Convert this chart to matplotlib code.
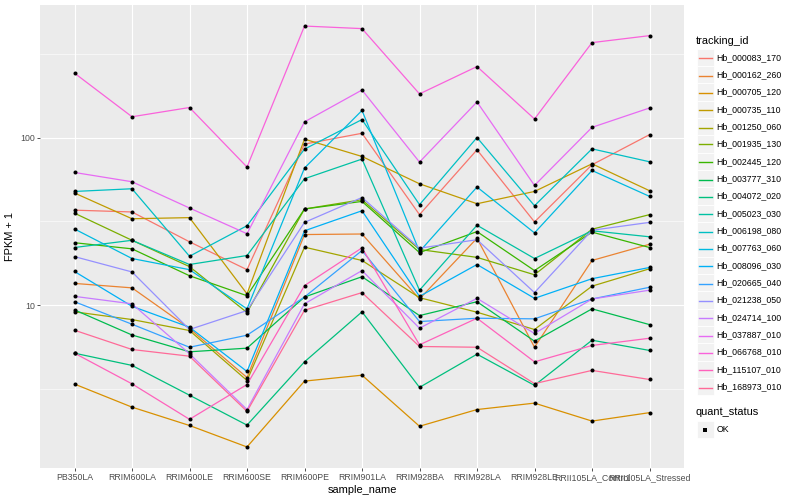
import numpy as np
import matplotlib
matplotlib.use('Agg')
import matplotlib.pyplot as plt
from matplotlib.patches import Rectangle
from matplotlib.lines import Line2D
from matplotlib.colors import to_hex
from matplotlib.ticker import FixedLocator, NullFormatter

plt.rcParams['font.family'] = ['Liberation Sans', 'DejaVu Sans']

samples = ['PB350LA', 'RRIM600LA', 'RRIM600LE', 'RRIM600SE', 'RRIM600PE',
           'RRIM901LA', 'RRIM928BA', 'RRIM928LA', 'RRIM928LE',
           'RRII105LA_Control', 'RRII105LA_Stressed']

# FPKM + 1, one value per sample
hb_000083_170 = [36.9, 36.0, 23.9, 16.3, 91.4, 106, 34.7, 84.5, 31.4, 68.8, 104]
hb_000162_260 = [13.5, 12.7, 7.27, 3.71, 26.4, 26.6, 10.9, 25.1, 5.62, 18.5, 23.1]
hb_000705_120 = [3.39, 2.47, 1.92, 1.43, 3.53, 3.83, 1.90, 2.39, 2.61, 2.04, 2.29]
hb_000735_110 = [46.7, 32.8, 33.3, 11.7, 97.8, 77.1, 53.0, 40.3, 47.7, 69.7, 48.2]
hb_001250_060 = [9.14, 8.22, 7.07, 3.56, 22.2, 18.5, 11.1, 9.09, 7.17, 13.0, 16.5]
hb_001935_130 = [35.4, 24.4, 17.0, 9.05, 37.5, 42.6, 21.5, 19.3, 15.2, 28.4, 34.7]
hb_002445_120 = [23.6, 21.7, 15.0, 11.4, 37.5, 41.6, 20.6, 27.5, 16.1, 27.3, 22.1]
hb_003777_310 = [9.39, 6.65, 5.28, 5.55, 11.2, 14.8, 8.68, 10.5, 6.11, 9.52, 7.67]
hb_004072_020 = [5.18, 4.38, 2.91, 1.93, 4.60, 9.14, 3.24, 5.11, 3.33, 6.19, 5.38]
hb_005023_030 = [22.1, 24.4, 17.5, 19.8, 56.8, 74.4, 12.3, 30.0, 19.0, 27.8, 25.6]
hb_006198_080 = [47.7, 49.5, 19.6, 29.8, 85.3, 128, 39.8, 100, 39.2, 85.6, 71.7]
hb_007763_060 = [28.5, 19.0, 16.3, 9.52, 65.8, 145, 20.9, 50.7, 27.0, 63.6, 44.6]
hb_008096_030 = [15.9, 9.86, 7.40, 4.03, 27.8, 36.6, 11.3, 17.5, 11.0, 14.4, 16.8]
hb_020665_040 = [10.5, 7.71, 5.62, 6.63, 11.2, 21.2, 8.00, 8.37, 8.30, 10.9, 12.8]
hb_021238_050 = [19.5, 15.8, 7.17, 9.30, 31.2, 43.9, 21.9, 24.6, 11.9, 28.0, 31.2]
hb_024714_100 = [11.3, 10.2, 5.14, 2.39, 10.2, 16.1, 7.30, 11.0, 6.79, 10.9, 12.3]
hb_037887_010 = [61.9, 54.5, 38.0, 26.7, 124, 192, 71.4, 163, 51.8, 115, 150]
hb_066768_010 = [242, 133, 151, 66.7, 462, 446, 182, 265, 129, 368, 405]
hb_115107_010 = [5.18, 3.40, 2.09, 3.37, 13.1, 22.0, 5.81, 8.37, 4.60, 5.76, 6.36]
hb_168973_010 = [7.10, 5.45, 4.97, 2.33, 9.34, 11.9, 5.68, 5.62, 3.41, 4.09, 3.61]

tracking_ids = ['Hb_000083_170', 'Hb_000162_260', 'Hb_000705_120', 'Hb_000735_110',
                'Hb_001250_060', 'Hb_001935_130', 'Hb_002445_120', 'Hb_003777_310',
                'Hb_004072_020', 'Hb_005023_030', 'Hb_006198_080', 'Hb_007763_060',
                'Hb_008096_030', 'Hb_020665_040', 'Hb_021238_050', 'Hb_024714_100',
                'Hb_037887_010', 'Hb_066768_010', 'Hb_115107_010', 'Hb_168973_010']
series = [hb_000083_170, hb_000162_260, hb_000705_120, hb_000735_110,
          hb_001250_060, hb_001935_130, hb_002445_120, hb_003777_310,
          hb_004072_020, hb_005023_030, hb_006198_080, hb_007763_060,
          hb_008096_030, hb_020665_040, hb_021238_050, hb_024714_100,
          hb_037887_010, hb_066768_010, hb_115107_010, hb_168973_010]


def hcl(h, c=100, l=65):
    # polar Luv -> sRGB, like R's hcl()
    xn, yn, zn = 95.047, 100.0, 108.883
    hr = np.radians(h)
    u_, v_ = c * np.cos(hr), c * np.sin(hr)
    y = yn * ((l + 16) / 116) ** 3
    un = 4 * xn / (xn + 15 * yn + 3 * zn)
    vn = 9 * yn / (xn + 15 * yn + 3 * zn)
    u = u_ / (13 * l) + un
    v = v_ / (13 * l) + vn
    x = 9 * y * u / (4 * v)
    z = -x / 3 - 5 * y + 3 * y / v
    m = np.array([[3.240479, -1.537150, -0.498535],
                  [-0.969256, 1.875992, 0.041556],
                  [0.055648, -0.204043, 1.057311]])
    rgb = m @ (np.array([x, y, z]) / 100)
    rgb = np.where(rgb <= 0.0031308, 12.92 * rgb, 1.055 * np.abs(rgb) ** (1 / 2.4) - 0.055)
    return to_hex(np.clip(rgb, 0, 1))


n = len(tracking_ids)
hues = np.linspace(15, 375 - 360 / n, n)
colors = [hcl(h) for h in hues]

W, H = 800, 500
fig = plt.figure(figsize=(8, 5), dpi=100)
fig.patch.set_facecolor('white')

def fx(px):
    return px / W

def fy(py):
    return 1 - py / H

ax = fig.add_axes([fx(40), fy(468), fx(684) - fx(40), fy(5) - fy(468)])
ax.set_facecolor('#EBEBEB')
for s in ax.spines.values():
    s.set_visible(False)

xs = np.arange(len(samples))
for vals, col in zip(series, colors):
    ax.plot(xs, vals, color=col, lw=0.9, zorder=3)
for vals in series:
    ax.plot(xs, vals, 'o', color='black', ms=2.9, zorder=4, mew=0)

ax.set_yscale('log')
allv = np.log10(np.concatenate([np.array(v) for v in series]))
lo, hi = allv.min(), allv.max()
pad = 0.05 * (hi - lo)
ax.set_ylim(10 ** (lo - pad), 10 ** (hi + pad))
ax.set_xlim(-0.6, len(samples) - 0.4)

ax.yaxis.set_major_locator(FixedLocator([1, 10, 100, 1000]))
ax.yaxis.set_major_formatter(plt.FuncFormatter(lambda v, p: '%d' % v))
ax.yaxis.set_minor_locator(FixedLocator([10 ** 0.5, 10 ** 1.5, 10 ** 2.5]))
ax.yaxis.set_minor_formatter(NullFormatter())
ax.set_xticks(xs)
ax.set_xticklabels(samples)

ax.grid(which='major', color='white', lw=0.8, zorder=0)
ax.grid(which='minor', axis='y', color='white', lw=0.4, zorder=0)
ax.set_axisbelow(True)
ax.tick_params(which='major', length=2.0, width=0.6, color='#333333',
               labelcolor='#4D4D4D', labelsize=6.3, pad=1.6)
ax.tick_params(which='minor', length=0)

ax.set_xlabel('sample_name', fontsize=7.9, labelpad=2)
ax.set_ylabel('FPKM + 1', fontsize=7.9, labelpad=4)

# legend: tracking_id
fig.text(fx(696), fy(40.7), 'tracking_id', fontsize=7.9, va='center', ha='left')
step = 17.33
for i, (name, col) in enumerate(zip(tracking_ids, colors)):
    cy = 57.3 + i * step
    ly = round(cy) + 0.5
    fig.patches.append(Rectangle((fx(697), fy(cy + step / 2)), fx(16.5), step / H,
                                 transform=fig.transFigure, facecolor='#F2F2F2',
                                 edgecolor='white', lw=0.6, zorder=1))
    fig.lines.append(Line2D([fx(698.5), fx(712)], [fy(ly), fy(ly)],
                            transform=fig.transFigure, color=col, lw=1.0,
                            zorder=5))
    fig.text(fx(716.5), fy(cy), name, fontsize=6.3, va='center', ha='left')

# legend: quant_status
fig.text(fx(696), fy(412.3), 'quant_status', fontsize=7.9, va='center', ha='left')
fig.patches.append(Rectangle((fx(697), fy(438)), fx(16.5), step / H,
                             transform=fig.transFigure, facecolor='#F2F2F2',
                             edgecolor='white', lw=0.6, zorder=1))
fig.lines.append(Line2D([fx(705)], [fy(429.5)], transform=fig.transFigure,
                        marker='s', color='black', ms=2.4, mew=0, ls='none',
                        zorder=5))
fig.text(fx(716.5), fy(429.5), 'OK', fontsize=6.3, va='center', ha='left')

fig.savefig('out.png', dpi=100, facecolor='white')
